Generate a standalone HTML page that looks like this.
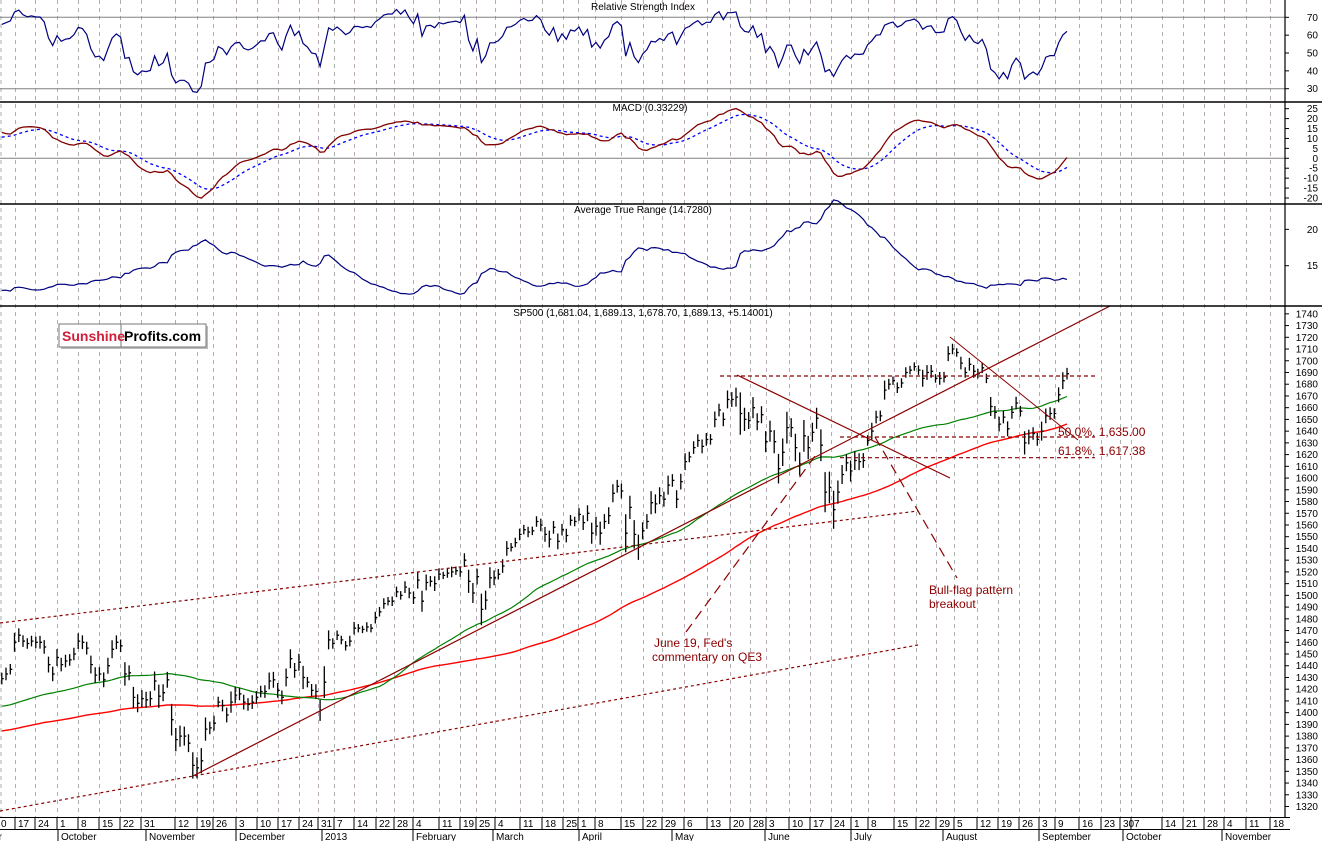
<!DOCTYPE html>
<html><head><meta charset="utf-8"><style>
html,body{margin:0;padding:0;background:#fff;}
svg{display:block;font-family:"Liberation Sans",sans-serif;}
</style></head><body>
<svg id="chart" width="1322" height="841" viewBox="0 0 1322 841" xmlns="http://www.w3.org/2000/svg">
<rect x="0" y="0" width="1322" height="841" fill="#fff"/>
<g id="grid"></g>
<g id="rsi"></g>
<g id="macd"></g>
<g id="atr"></g>
<g id="main"></g>
<g id="ann"></g>
<g id="axes"></g>
<g>
<rect x="61" y="326" width="147" height="23" fill="#bbb"/>
<rect x="59" y="324" width="147" height="23" fill="#fff" stroke="#777"/>
<line x1="121" y1="324" x2="121" y2="347" stroke="#777"/>
<text x="62" y="341" font-size="14" font-weight="bold" fill="#d0203a">Sunshine</text>
<text x="124" y="341" font-size="14" font-weight="bold" fill="#000">Profits.com</text>
</g>
</svg>
<script>
const closes = [
1429,1433,1437,1460,1466,1461,1459,1461,1460,1460,1456,1441,1433,1447,1441,
1444,1445,1450,1461,1460,1455,1441,1432,1433,1428,1440,1454,1460,1457,1433,1434,1413,1408,1412,1411,1412,
1427,1414,1417,1428,1394,1377,1380,1380,1374,1355,1353,1359,1386,1387,1391,1409,1406,1398,1409,1415,1416,
1409,1407,1409,1413,1418,1418,1427,1428,1419,1413,1430,1446,1436,1443,1430,1426,1419,1418,1402,1426,
1462,1459,1466,1462,1457,1461,1472,1472,1471,1473,1472,1481,1486,1493,1495,1495,1503,1500,1507,1502,1498,
1513,1495,1511,1512,1510,1518,1517,1519,1520,1521,1520,1530,1512,1502,1516,1488,1496,1515,1515,
1518,1525,1540,1541,1545,1552,1556,1554,1555,1563,1560,1552,1548,1558,1546,1556,1551,1564,1563,1569,
1562,1570,1553,1559,1553,1563,1568,1587,1593,1589,1553,1575,1552,1541,1555,1563,1579,1578,1585,1582,1594,1598,
1582,1597,1614,1618,1626,1632,1627,1633,1633,1650,1658,1650,1667,1667,1669,1655,1650,1649,1660,1648,1654,1631,
1640,1631,1608,1622,1643,1643,1626,1612,1636,1626,1639,1651,1628,1588,1592,1573,1588,1603,1613,1606,
1615,1614,1615,1632,1640,1652,1653,1675,1680,1683,1677,1681,1690,1692,1695,1692,1685,1690,1691,1685,1685,1686,
1706,1710,1707,1698,1690,1697,1691,1689,1694,1685,1661,1656,1646,1652,1642,1656,1664,1657,1630,1635,1638,1633,
1640,1653,1655,1655,1671,1683,1689];
const ranges = [
11,12,10,18,13,11,10,10,11,12,13,15,14,16,13,
12,11,12,15,13,12,17,15,13,14,15,17,13,12,22,14,20,17,16,15,14,
18,22,16,15,30,22,20,18,17,25,20,24,22,12,14,10,11,14,20,16,12,
14,12,13,12,11,12,16,15,14,13,17,18,14,16,22,10,12,14,20,30,
18,10,9,8,9,10,12,8,7,9,8,11,9,10,8,9,10,8,11,10,12,
16,20,15,10,14,11,7,9,10,8,9,13,22,19,15,30,18,20,14,
10,13,14,8,9,11,9,10,8,10,12,14,16,12,15,11,13,10,9,12,
14,15,20,18,22,14,16,17,12,14,36,22,27,24,16,14,22,18,16,14,18,12,
17,15,16,10,12,12,13,12,10,15,12,13,17,14,18,40,22,16,20,16,16,20,
20,22,28,26,30,18,26,22,30,22,18,20,30,38,30,36,22,18,16,20,
18,16,14,10,16,12,10,18,10,8,10,9,10,8,8,9,16,14,12,8,12,10,
14,10,8,12,10,12,12,9,10,9,18,12,14,12,14,12,12,10,22,14,12,12,
18,14,12,10,14,16,11];
const ma50Seed = 1405;
const ma100Seed = 1384;
const macdSeeds = [1428, 1414, 10];
const rsiSeeds = [7, 3.6];
const atrSeed = 11.6;
const weekLabels = ["0","17","24","1","8","15","22","31","12","19","26","3","10","17","24","31","7","14","22","28","4","11","19","25","4","11","18","25","1","8","15","22","29","6","13","20","28","3","10","17","24","1","8","15","22","29","5","12","19","26","3","9","16","23","30","7","14","21","28","4","11","18"];
const weekX = [0,17,37,59,80,101,122,143,177,199,215,238,259,280,301,320,336,356,378,396,415,441,462,478,497,522,544,565,580,597,623,645,664,686,709,732,752,768,791,812,833,853,870,896,918,938,956,979,1000,1021,1041,1057,1081,1103,1122,1133,1164,1185,1206,1226,1248,1272];
const monthLabels = ["September","October","November","December","2013","February","March","April","May","June","July","August","September","October","November"];
const monthX = [-48,60,148,238,324,415,495,581,674,767,853,945,1041,1125,1224];

const NS = "http://www.w3.org/2000/svg";
function mk(parent, tag, attrs){const e=document.createElementNS(NS,tag);for(const k in attrs)e.setAttribute(k,attrs[k]);parent.appendChild(e);return e;}
const n = Math.min(closes.length, ranges.length);
const xOf = i => 1.8 + i*4.244;
const yMain = p => 806.5 - (p-1320)*1.173;
const yRsi = v => 17.3 + (70-v)*1.785;
const yMacd = v => 158.3 - v*1.985;
const yAtr = v => 265.7 - (v-15)*7.27;
const AX = 1285;

const grid = document.getElementById('grid');
weekX.forEach((wx,k)=>{
  const gx = Math.max(0.5, wx-2)+0.5;
  const l = mk(grid,'line',{x1:gx,y1:0,x2:gx,y2:817,stroke:(k%2?'#b8a8b8':'#a8b0a8'),'stroke-width':1,'stroke-dasharray':'4,4'});
  
  
});

function path(parent, pts, attrs, name){
  const d = pts.map((p,i)=>(i?'L':'M')+p[0].toFixed(1)+' '+p[1].toFixed(1)).join(' ');
  const e = mk(parent,'path',Object.assign({d:d,fill:'none'},attrs));
  
  
  return e;
}

const rsiG = document.getElementById('rsi');
[70,30].forEach(v=>{const l=mk(rsiG,'line',{x1:0,x2:AX,y1:yRsi(v),y2:yRsi(v),stroke:'#808080'});});
let ag=rsiSeeds[0], al=rsiSeeds[1]; const rsiPts=[];
for(let i=0;i<n;i++){
  if(i>0){const ch=closes[i]-closes[i-1];ag=(ag*13+Math.max(ch,0))/14;al=(al*13+Math.max(-ch,0))/14;}
  const r = 100-100/(1+ag/al); rsiPts.push([xOf(i),yRsi(r)]);
}
path(rsiG,rsiPts,{stroke:'#000080','stroke-width':1.2},'rsi-line');

const macdG = document.getElementById('macd');
{const l=mk(macdG,'line',{x1:0,x2:AX,y1:yMacd(0),y2:yMacd(0),stroke:'#808080'});}
let e12=macdSeeds[0], e26=macdSeeds[1], sig=macdSeeds[2]; const mPts=[], sPts=[];
for(let i=0;i<n;i++){
  e12 = e12 + (closes[i]-e12)*2/13; e26 = e26 + (closes[i]-e26)*2/27;
  const m = e12-e26; sig = sig + (m-sig)*2/10;
  mPts.push([xOf(i),yMacd(m)]); sPts.push([xOf(i),yMacd(sig)]);
}
path(macdG,sPts,{stroke:'#0000ff','stroke-width':1.3,'stroke-dasharray':'3,3'},'macd-signal-line');
path(macdG,mPts,{stroke:'#800000','stroke-width':1.3},'macd-line');

const atrG = document.getElementById('atr');
let atr = atrSeed; const aPts=[];
for(let i=0;i<n;i++){ if(i>0) atr=(atr*13+ranges[i])/14; aPts.push([xOf(i),yAtr(atr)]); }
path(atrG,aPts,{stroke:'#000080','stroke-width':1.2},'atr-line');

const mainG = document.getElementById('main');
function sma(period, seed){const out=[];for(let i=0;i<n;i++){let s=0;for(let j=i-period+1;j<=i;j++)s+=(j>=0?closes[j]:seed);out.push(s/period);}return out;}
const m50 = sma(50,ma50Seed), m100 = sma(100,ma100Seed);
path(mainG,m100.map((v,i)=>[xOf(i),yMain(v)]),{stroke:'#ff0000','stroke-width':1.4},'ma-100-line');
path(mainG,m50.map((v,i)=>[xOf(i),yMain(v)]),{stroke:'#008000','stroke-width':1.2},'ma-50-line');
for(let i=0;i<n;i++){
  const hi = closes[i]+ranges[i]*0.45, lo = closes[i]-ranges[i]*0.45;
  const x = xOf(i);
  const b = mk(mainG,'path',{d:`M${x.toFixed(1)} ${yMain(hi).toFixed(1)}V${yMain(lo).toFixed(1)}M${x.toFixed(1)} ${yMain(closes[i]).toFixed(1)}h2`,stroke:'#000','stroke-width':1.3,fill:'none'});
  
  
}

const ann = document.getElementById('ann');
function aline(x1,y1,x2,y2,dash,name,w){const l=mk(ann,'line',{x1,y1,x2,y2,stroke:'#8b0000','stroke-width':w||1.2});if(dash)l.setAttribute('stroke-dasharray',dash);}
aline(193,776,1110,306,null,'uptrend-line');
aline(0,623,918,511,'3,3','upper-channel-line');
aline(0,811,918,645,'3,3','lower-channel-line');
aline(720,yMain(1687),1095,yMain(1687),'4,3','resistance-1687');
aline(840,yMain(1635),1095,yMain(1635),'4,3','fib-50-line');
aline(840,yMain(1617.38),1095,yMain(1617.38),'4,3','fib-618-line');
aline(737,375,950,478,null,'downtrend-line');
aline(950,337,1078,440,null,'flag-top-line',1);
aline(686,632,818,452,'10,6','june19-pointer');
aline(875,437,957,578,'10,6','bullflag-pointer');
function atext(x,y,s,name){const t=mk(ann,'text',{x,y,'font-size':12,fill:'#8b0000'});t.textContent=s;}
atext(654,647,"June 19, Fed's",'june19-label');
atext(652,661,"commentary on QE3",'june19-label-2');
atext(929,594,"Bull-flag pattern",'bullflag-label');
atext(929,608,"breakout",'bullflag-label-2');
atext(1058,436,"50.0%, 1,635.00",'fib-50-label');
atext(1058,455,"61.8%, 1,617.38",'fib-618-label');

const axes = document.getElementById('axes');
function ln(x1,y1,x2,y2,name,c,w){const l=mk(axes,'line',{x1,y1,x2,y2,stroke:c||'#000','stroke-width':w||1.5});}
ln(0,102,1322,102,'panel-divider-1');ln(0,204,1322,204,'panel-divider-2');ln(0,306,1322,306,'panel-divider-3');
ln(AX,0,AX,817,'right-axis-line',null,1.2);
ln(0,817.5,1290,817.5,'x-axis-top',null,1);ln(0,829.5,1290,829.5,'x-axis-mid',null,1);
function ttl(x,y,s,name){const t=mk(axes,'text',{x,y,'font-size':10,fill:'#000','text-anchor':'middle'});t.textContent=s;}
ttl(643,10,'Relative Strength Index','rsi-title');
ttl(650,111,'MACD (0.33229)','macd-title');
ttl(643,213,'Average True Range (14.7280)','atr-title');
ttl(643,316,'SP500 (1,681.04, 1,689.13, 1,678.70, 1,689.13, +5.14001)','price-title');
function ylab(y,s,name){const t=mk(axes,'text',{x:1318,y:y+3.5,'font-size':10,fill:'#000','text-anchor':'end'});t.textContent=s;ln(AX,y,AX+4,y,'y-tick',null,1);}
[70,60,50,40,30].forEach(v=>ylab(yRsi(v),String(v),'rsi-tick-label'));
[25,20,15,10,5,0,-5,-10,-15,-20].forEach(v=>ylab(yMacd(v),String(v),'macd-tick-label'));
[20,15].forEach(v=>ylab(yAtr(v),String(v),'atr-tick-label'));
for(let p=1320;p<=1740;p+=10) ylab(yMain(p),String(p),'price-tick-label');
weekLabels.forEach((s,k)=>{
  const x=weekX[k];
  if(x>0) ln(x-2,817,x-2,829,'week-tick',null,1);
  const t=mk(axes,'text',{x:x+1,y:827,'font-size':10,fill:'#000'});t.textContent=s;
  
  
});
monthLabels.forEach((s,k)=>{
  const x=monthX[k];
  if(x>0) ln(x-2,829,x-2,841,'month-tick',null,1);
  const t=mk(axes,'text',{x:x+1,y:840,'font-size':10,fill:'#000'});t.textContent=s;
  
  
});
</script>
</body></html>
